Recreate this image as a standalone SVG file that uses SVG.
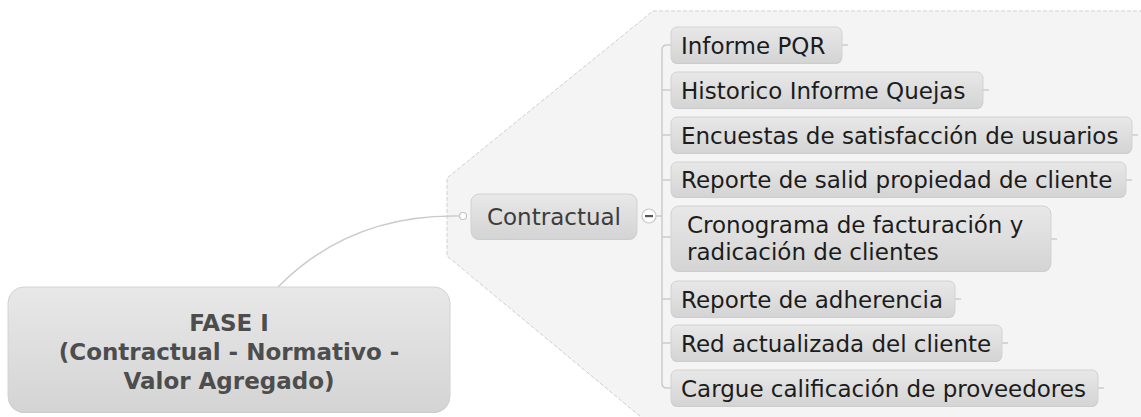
<svg xmlns="http://www.w3.org/2000/svg" width="1141" height="417" viewBox="0 0 1141 417">
<defs>
<linearGradient id="g" x1="0" y1="0" x2="0" y2="1">
<stop offset="0" stop-color="#e8e8e8"/>
<stop offset="1" stop-color="#d4d4d4"/>
</linearGradient>
<style>
.bg{fill:#f4f4f4;stroke:#cfcfcf;stroke-width:1;stroke-dasharray:4 2}
.box{fill:url(#g);stroke:#d2d2d2;stroke-width:1}
.sh{fill:#c9c9c9}
.t{font-family:"DejaVu Sans",Verdana,sans-serif;font-size:23px;fill:#1c1c1c}
.tc{font-family:"DejaVu Sans",Verdana,sans-serif;font-size:23px;fill:#3c3c3c;text-anchor:middle}
.tb{font-family:"DejaVu Sans",Verdana,sans-serif;font-size:23px;font-weight:bold;fill:#4d4d4d;text-anchor:middle}
.c{fill:none;stroke:#cbcbcb;stroke-width:1.5}
</style>
</defs>
<rect width="1141" height="417" fill="#ffffff"/>
<polygon class="bg" points="653,11 1145,11 1145,422 647,422 447,256 447,178"/>
<g id="connectors">
<path class="c" d="M278,287 Q350,214 459,216"/>
<circle cx="463" cy="216" r="3.5" fill="#ffffff" stroke="#c4c4c4" stroke-width="1.2"/>
<path class="c" d="M656,216 H662"/>
<path class="c" d="M671,45 H667 Q662,45 662,50 V383 Q662,388 667,388 H671"/>
<path class="c" d="M662,90 H671 M662,135 H671 M662,180 H671 M662,237 H671 M662,299 H671 M662,343 H671"/>
<path class="c" d="M842,45 H848 M983,90 H989 M1132,135 H1138 M1126,180 H1132 M1051,239 H1057 M955,299 H961 M1002,343 H1008 M1098,388 H1104" stroke-width="1"/>
</g>
<g id="root">
<rect class="sh" x="8" y="288" width="442" height="125" rx="16"/>
<rect class="box" x="8" y="287" width="442" height="125" rx="16"/>
<text class="tb" x="229" y="331">FASE I</text>
<text class="tb" x="229" y="360">(Contractual - Normativo -</text>
<text class="tb" x="229" y="389">Valor Agregado)</text>
</g>
<g id="contractual">
<rect class="sh" x="471" y="195" width="166" height="45" rx="8"/>
<rect class="box" x="471" y="194" width="166" height="45" rx="8"/>
<text class="tc" x="554" y="225">Contractual</text>
</g>
<g id="collapse">
<circle cx="649" cy="216" r="7" fill="#ffffff" stroke="#c8c8c8" stroke-width="1.2"/>
<rect x="645" y="215" width="8" height="2.2" fill="#555555"/>
</g>
<g id="n1">
<rect class="sh" x="671" y="28" width="171" height="36" rx="6"/>
<rect class="box" x="671" y="27" width="171" height="36" rx="6"/>
<text class="t" x="681" y="54">Informe PQR</text>
</g>
<g id="n2">
<rect class="sh" x="671" y="73" width="312" height="36" rx="6"/>
<rect class="box" x="671" y="72" width="312" height="36" rx="6"/>
<text class="t" x="681" y="99">Historico Informe Quejas</text>
</g>
<g id="n3">
<rect class="sh" x="671" y="118" width="461" height="36" rx="6"/>
<rect class="box" x="671" y="117" width="461" height="36" rx="6"/>
<text class="t" x="681" y="144">Encuestas de satisfacción de usuarios</text>
</g>
<g id="n4">
<rect class="sh" x="671" y="163" width="455" height="35" rx="6"/>
<rect class="box" x="671" y="162" width="455" height="35" rx="6"/>
<text class="t" x="681" y="188">Reporte de salid propiedad de cliente</text>
</g>
<g id="n5">
<rect class="sh" x="671" y="207" width="380" height="65" rx="8"/>
<rect class="box" x="671" y="206" width="380" height="65" rx="8"/>
<text class="t" x="687" y="233">Cronograma de facturación y</text>
<text class="t" x="687" y="260">radicación de clientes</text>
</g>
<g id="n6">
<rect class="sh" x="671" y="282" width="284" height="36" rx="6"/>
<rect class="box" x="671" y="281" width="284" height="36" rx="6"/>
<text class="t" x="681" y="308">Reporte de adherencia</text>
</g>
<g id="n7">
<rect class="sh" x="671" y="326" width="331" height="36" rx="6"/>
<rect class="box" x="671" y="325" width="331" height="36" rx="6"/>
<text class="t" x="681" y="352">Red actualizada del cliente</text>
</g>
<g id="n8">
<rect class="sh" x="671" y="371" width="427" height="36" rx="6"/>
<rect class="box" x="671" y="370" width="427" height="36" rx="6"/>
<text class="t" x="681" y="397">Cargue calificación de proveedores</text>
</g>
</svg>
